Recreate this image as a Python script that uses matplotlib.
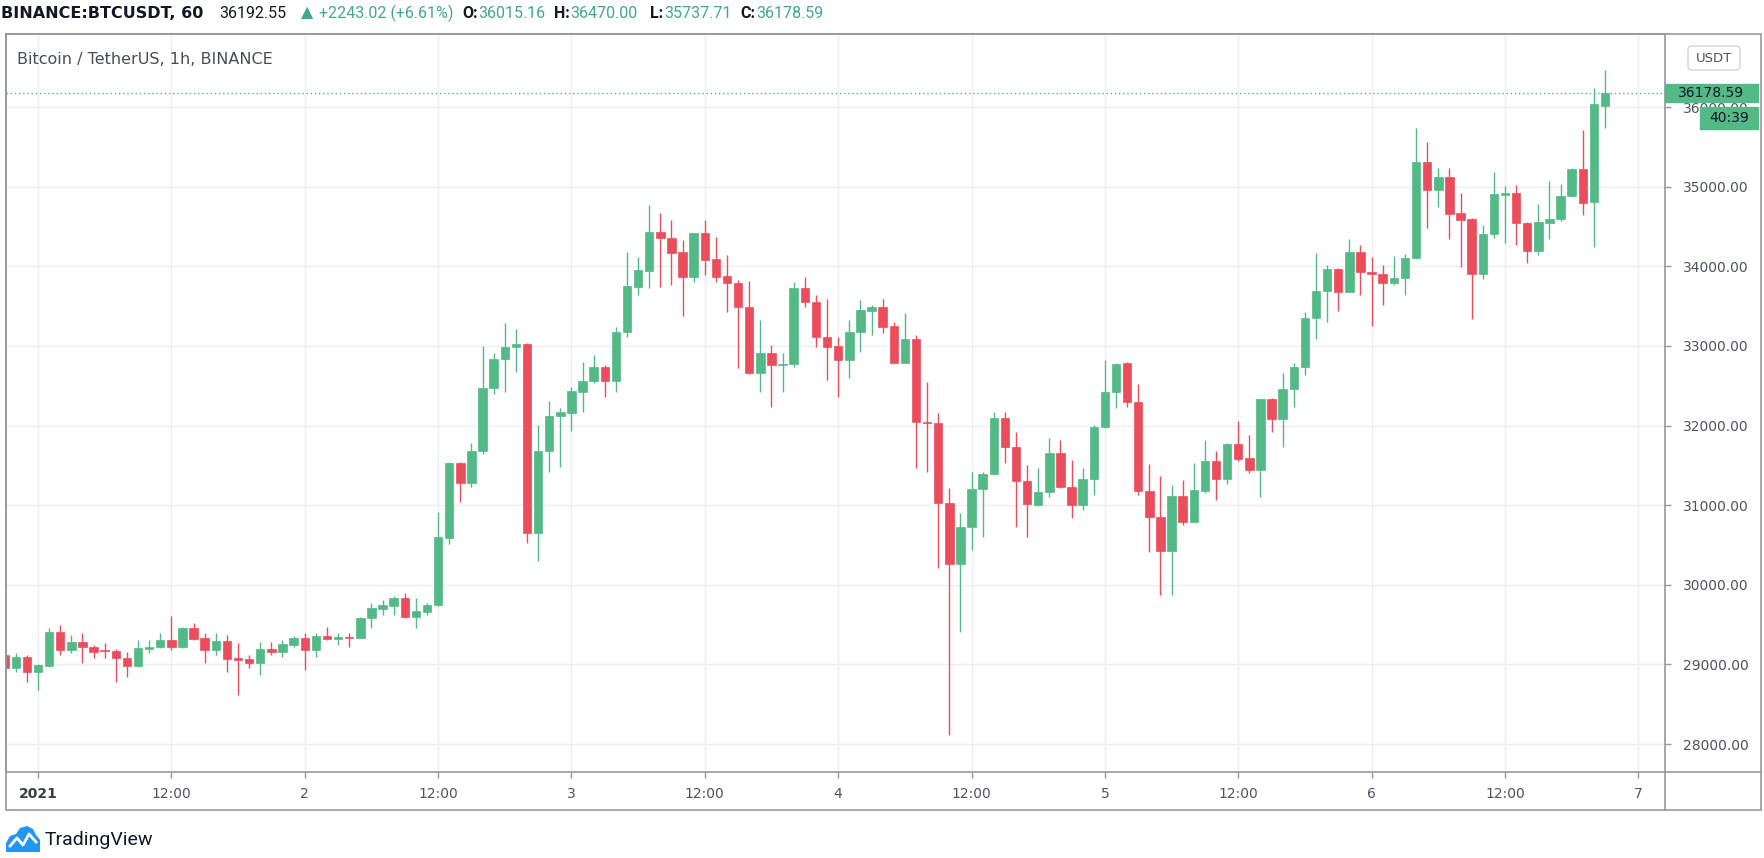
import numpy as np
import pandas as pd
import matplotlib
matplotlib.use("Agg")
import matplotlib.pyplot as plt
import matplotlib.dates as mdates
import matplotlib.transforms as mtransforms
from matplotlib.patches import Rectangle, FancyBboxPatch, Polygon
from matplotlib.lines import Line2D

# BTCUSDT 1h candles, 2020-12-31 21:00 .. 2021-01-06 21:00
start = "2020-12-31 21:00"
opens = [29118, 28950, 29097, 28909, 28980, 29403, 29181, 29277, 29214, 29181,
         29172, 29076, 28980, 29193, 29214, 29306, 29223, 29461, 29327, 29181,
         29298, 29076, 29072, 29013, 29189, 29152, 29244, 29327, 29181, 29357,
         29319, 29348, 29336, 29579, 29696, 29738, 29838, 29600, 29662, 29746,
         30583, 31534, 31274, 31684, 32476, 32836, 32991, 33024, 30654, 31684,
         32124, 32153, 32426, 32564, 32739, 32564, 33179, 33744, 33945, 34435,
         34360, 34176, 33862, 34414, 34088, 33878, 33795, 33493, 32656, 32907,
         32760, 32773, 33723, 33556, 33116, 32999, 32823, 33179, 33443, 33493,
         33250, 32790, 33083, 32049, 32036, 31023, 30257, 30730, 31203, 31387,
         32099, 31735, 31308, 31002, 31161, 31659, 31232, 31002, 31324, 31978,
         32417, 32781, 32300, 31178, 30855, 30428, 31115, 30793, 31178, 31555,
         31329, 31764, 31588, 31442, 32329, 32078, 32459, 32739, 33355, 33690,
         33962, 33682, 34176, 33933, 33903, 33794, 33849, 34100, 35314, 34958,
         35118, 34665, 34590, 33899, 34406, 34896, 34925, 34548, 34196, 34548,
         34594, 34887, 35218, 34804, 36015.16]
highs = [29150, 29139, 29118, 29005, 29453, 29495, 29369, 29398, 29244, 29265,
         29189, 29160, 29306, 29306, 29398, 29608, 29474, 29516, 29390, 29390,
         29369, 29265, 29118, 29286, 29286, 29306, 29357, 29390, 29390, 29474,
         29390, 29390, 29600, 29767, 29809, 29859, 29893, 29830, 29767, 30914,
         31546, 31546, 31777, 32999, 32907, 33292, 33209, 33041, 32007, 32312,
         32216, 32488, 32802, 32886, 32760, 33242, 34184, 34121, 34770, 34665,
         34582, 34331, 34423, 34582, 34372, 34142, 33828, 33820, 33326, 33012,
         32915, 33807, 33862, 33640, 33585, 33116, 33326, 33577, 33514, 33585,
         33305, 33418, 33137, 32551, 32153, 31211, 30897, 31421, 31421, 32174,
         32174, 31915, 31504, 31462, 31839, 31818, 31567, 31463, 32007, 32823,
         32790, 32802, 32522, 31513, 31366, 31253, 31316, 31525, 31818, 31684,
         31777, 32061, 31881, 32338, 32342, 32656, 32781, 33430, 34171, 34017,
         33975, 34339, 34268, 34121, 34017, 34129, 34155, 35733, 35566, 35231,
         35231, 34925, 34603, 34519, 35189, 35009, 35021, 34561, 34783, 35076,
         35034, 35231, 35712, 36235, 36470.00]
lows = [28900, 28909, 28783, 28678, 28971, 29118, 29139, 29013, 29076, 29076,
        28783, 28846, 28971, 29139, 29202, 29181, 29202, 29306, 29013, 29118,
        28909, 28616, 28950, 28867, 29118, 29097, 29223, 28930, 29097, 29306,
        29244, 29214, 29327, 29453, 29620, 29620, 29579, 29453, 29620, 29733,
        30512, 31044, 31232, 31643, 32396, 32417, 32677, 30529, 30303, 31421,
        31484, 31936, 32174, 32530, 32363, 32426, 33116, 33640, 33723, 33744,
        33765, 33376, 33807, 33891, 33807, 33430, 32719, 32647, 32426, 32237,
        32426, 32731, 33493, 32991, 32572, 32363, 32593, 32928, 33137, 33158,
        32781, 32781, 31462, 31421, 30215, 28113, 29411, 30437, 30604, 31379,
        31525, 30721, 30604, 30994, 31107, 31211, 30834, 30939, 31128, 31965,
        32216, 32229, 31128, 30416, 29872, 29872, 30751, 30784, 31149, 31065,
        31266, 31555, 31400, 31107, 31923, 31735, 32237, 32635, 33083, 33305,
        33443, 33673, 33640, 33254, 33514, 33765, 33640, 34088, 34477, 34749,
        34339, 33996, 33338, 33836, 34351, 34289, 34268, 34037, 34142, 34339,
        34573, 34875, 34644, 34247, 35737.71]
closes = [28950, 29097, 28909, 28992, 29403, 29181, 29277, 29214, 29160, 29164,
          29076, 28980, 29202, 29223, 29306, 29223, 29461, 29315, 29181, 29294,
          29064, 29055, 29013, 29189, 29152, 29252, 29327, 29181, 29357, 29319,
          29344, 29332, 29579, 29704, 29746, 29838, 29600, 29675, 29746, 30604,
          31534, 31274, 31684, 32476, 32836, 32991, 33024, 30654, 31684, 32124,
          32174, 32434, 32564, 32739, 32564, 33179, 33753, 33954, 34435, 34351,
          34171, 33862, 34414, 34079, 33862, 33786, 33485, 32656, 32907, 32760,
          32773, 33723, 33556, 33116, 32991, 32823, 33179, 33451, 33493, 33242,
          32790, 33083, 32040, 32032, 31031, 30257, 30730, 31203, 31387, 32099,
          31726, 31308, 31014, 31161, 31659, 31232, 31002, 31324, 31978, 32417,
          32773, 32300, 31182, 30847, 30428, 31115, 30793, 31190, 31555, 31329,
          31764, 31580, 31442, 32329, 32078, 32459, 32739, 33355, 33690, 33962,
          33682, 34176, 33924, 33899, 33794, 33849, 34100, 35314, 34958, 35118,
          34657, 34582, 33899, 34406, 34904, 34917, 34540, 34196, 34552, 34594,
          34887, 35218, 34791, 36037, 36178.59]

price_ticks = [28000, 29000, 30000, 31000, 32000, 33000, 34000, 35000, 36000]
time_labels = ["2021", "12:00", "2", "12:00", "3", "12:00", "4",
               "12:00", "5", "12:00", "6", "12:00", "7"]

# (text, left x in px, weight, colour key)
header_parts = [("BINANCE:BTCUSDT, 60", 0, "bold", "dark"),
                ("36192.55", 218, "normal", "dark"),
                ("\u25b2", 300, "normal", "teal"),
                ("+2243.02 (+6.61%)", 318, "normal", "teal"),
                ("O:", 461, "bold", "dark"), ("36015.16", 477, "normal", "teal"),
                ("H:", 553, "bold", "dark"), ("36470.00", 569, "normal", "teal"),
                ("L:", 649, "bold", "dark"), ("35737.71", 663, "normal", "teal"),
                ("C:", 739, "bold", "dark"), ("36178.59", 755, "normal", "teal")]
legend_text = "Bitcoin / TetherUS, 1h, BINANCE"
timer_text = "40:39"

UP = "#53b987"
DOWN = "#eb4d5c"
TEAL = "#3fa88e"
DARK = "#131722"
AXIS_TXT = "#50535e"
BORDER = "#9598a1"
GRID = "#eceef3"

W, H = 1765, 858
fig = plt.figure(figsize=(W / 100, H / 100), dpi=100)
fig.patch.set_facecolor("white")

def fx(px):
    return px / W

def fy(py):
    return 1 - py / H

# main price pane
L, R, T, B = 6, 1665, 34, 772
ax = fig.add_axes([fx(L), fy(B), fx(R) - fx(L), fy(T) - fy(B)])

times = pd.date_range(start, periods=len(opens), freq="h")
x = mdates.date2num(times)
o = np.array(opens)
h = np.array(highs)
lo = np.array(lows)
c = np.array(closes)
up = c >= o
cols = np.where(up, UP, DOWN)

t0 = mdates.date2num(pd.Timestamp("2021-01-01"))
hour = 1 / 24
ax.set_xlim(t0 - 2.88 * hour, t0 + 146.4 * hour)
ax.set_ylim(27649, 36918)

ax.vlines(x, lo, h, colors=cols, lw=1.0, zorder=2)
body_lo = np.minimum(o, c)
body_h = np.maximum(np.abs(c - o), 14)
ax.bar(x, body_h, bottom=body_lo, width=0.76 * hour, color=cols,
       edgecolor=cols, lw=0.5, zorder=3)

# axes cosmetics
tick_times = pd.date_range("2021-01-01", periods=len(time_labels), freq="12h")
ax.set_xticks(mdates.date2num(tick_times))
ax.set_xticklabels(time_labels)
ax.set_yticks(price_ticks)
ax.set_yticklabels([f"{p:.2f}" for p in price_ticks])
ax.yaxis.tick_right()
ax.grid(True, color=GRID, lw=1, zorder=0)
ax.set_axisbelow(True)
ax.tick_params(axis="x", length=4, width=1, color=BORDER, pad=7,
               labelsize=10, labelcolor=AXIS_TXT)
ax.tick_params(axis="y", length=4, width=1, color=BORDER, pad=9,
               labelsize=10, labelcolor=AXIS_TXT)
ax.get_xticklabels()[0].set_fontweight("bold")
ax.get_xticklabels()[0].set_color("#3a3d47")
for s in ax.spines.values():
    s.set_color(BORDER)
    s.set_linewidth(1.2)

# last price line and labels
last = closes[-1]
ax.axhline(last, color=UP, lw=1, ls=(0, (1, 2)), zorder=1)
blend = mtransforms.blended_transform_factory(ax.transAxes, ax.transData)
ppx = 12.56  # price units per pixel
x_end = (1758 - L) / (R - L)
ax.add_patch(Rectangle((1.0, last - 9 * ppx), x_end - 1.0, 18 * ppx,
                       transform=blend, facecolor=UP, edgecolor=UP,
                       clip_on=False, zorder=10))
ax.text(1.0 + 13 / (R - L), last, f"{last:.2f}", transform=blend,
        ha="left", va="center", fontsize=10, color=DARK,
        clip_on=False, zorder=11)
tmid = 35860
x_tim = (1700 - L) / (R - L)
ax.add_patch(Rectangle((x_tim, tmid - 11 * ppx), x_end - x_tim, 22 * ppx,
                       transform=blend, facecolor=UP, edgecolor=UP,
                       clip_on=False, zorder=10))
ax.text((x_tim + x_end) / 2, tmid, timer_text, transform=blend,
        ha="center", va="center", fontsize=10, color=DARK,
        clip_on=False, zorder=11)

# outer frame and pane dividers
idt = mtransforms.IdentityTransform()
fig.add_artist(Rectangle((L, H - 810), 1761 - L, 810 - 34, transform=idt,
                         fill=False, edgecolor=BORDER, lw=1.2))
fig.add_artist(Line2D([R, R], [H - 772, H - 810], transform=idt,
                      color=BORDER, lw=1.2))
fig.add_artist(Line2D([R, 1761], [H - 772, H - 772], transform=idt,
                      color=BORDER, lw=1.2))

# currency badge
fig.add_artist(FancyBboxPatch((1688, H - 70), 52, 24,
                              boxstyle="round,pad=0,rounding_size=4",
                              transform=idt, facecolor="white",
                              edgecolor="#d1d4dc", lw=1))
fig.text(fx(1714), fy(58), "USDT", ha="center", va="center",
         fontsize=9.5, color=AXIS_TXT)

# header line
for i, (txt, px, wt, col) in enumerate(header_parts):
    fam = ["DejaVu Sans"] if i == 0 else ["Roboto", "DejaVu Sans"]
    fig.text(fx(px + 1), fy(13), txt, ha="left", va="center",
             fontsize=11.5, fontweight=wt,
             color=DARK if col == "dark" else TEAL, family=fam)

fig.text(fx(17), fy(59), legend_text, ha="left", va="center",
         fontsize=11.5, color="#4a4d57", family=["DejaVu Sans"])

# TradingView mark
cloud = [(6, 852), (6, 843), (10, 836), (16, 834), (20, 828), (27, 826),
         (33, 829), (36, 835), (40, 840), (40, 852)]
fig.add_artist(Polygon([(px, H - py) for px, py in cloud], closed=True,
                       transform=idt, facecolor="#2196f3", edgecolor="none"))
fig.add_artist(Line2D([10, 17, 23, 29, 36], [H - 846, H - 838, H - 845,
                                             H - 834, H - 842],
                      transform=idt, color="white", lw=2))
fig.text(fx(45), fy(840), "TradingView", ha="left", va="center",
         fontsize=14, color="#131722", family=["Roboto", "DejaVu Sans"])

fig.savefig("out.png", dpi=100)
